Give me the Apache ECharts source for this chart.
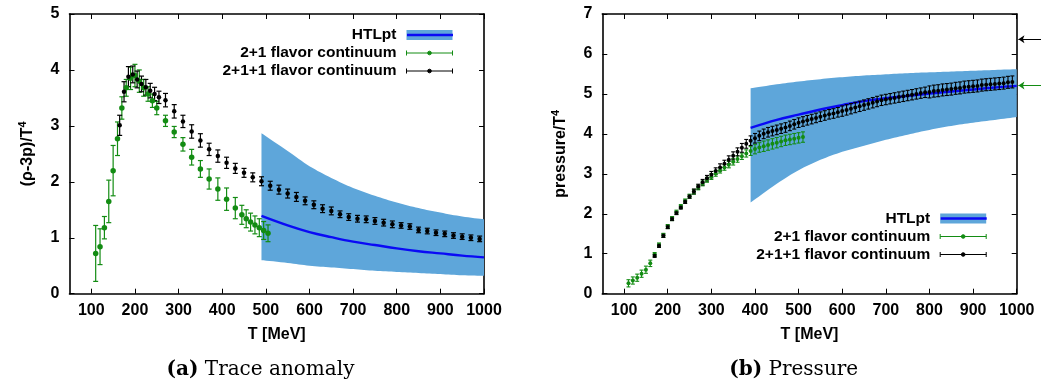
<!DOCTYPE html>
<html><head><meta charset="utf-8">
<script src="https://cdn.jsdelivr.net/npm/echarts@6/dist/echarts.min.js"></script>
<style>html,body{margin:0;padding:0;background:#fff}#c{width:1041px;height:389px}</style>
</head><body><div id="c"></div>
<script>
// ---------- tick labels ----------
const xTicks = [100, 200, 300, 400, 500, 600, 700, 800, 900, 1000];

// ---------- (a) trace anomaly ----------
const T_trace_21 = [110,120,130,140,150,160,170,180,190,200,210,220,230,240,250,270,290,310,330,350,370,390,410,430,445,455,465,475,485,495,505];
const trace_21 = [0.72,0.84,1.18,1.65,2.20,2.77,3.32,3.68,3.85,3.90,3.80,3.68,3.57,3.45,3.32,3.09,2.89,2.67,2.44,2.23,2.05,1.87,1.69,1.53,1.41,1.34,1.28,1.23,1.18,1.13,1.08];
const trace_21_err = [0.50,0.32,0.20,0.38,0.45,0.30,0.20,0.15,0.20,0.20,0.20,0.15,0.13,0.12,0.12,0.10,0.10,0.12,0.14,0.15,0.18,0.20,0.20,0.19,0.17,0.16,0.16,0.16,0.16,0.16,0.15];

const T_trace_211 = [165,175,185,195,205,215,225,235,245,255,270,290,310,330,350,370,390,410,430,450,470,490,510,530,550,570,590,610,630,650,670,690,710,730,750,770,790,810,830,850,870,890,910,930,950,970,990];
const trace_211 = [3.01,3.61,3.88,3.92,3.83,3.75,3.69,3.63,3.57,3.51,3.46,3.26,3.08,2.90,2.74,2.58,2.46,2.34,2.24,2.16,2.08,2.01,1.93,1.86,1.79,1.73,1.66,1.59,1.52,1.48,1.42,1.37,1.34,1.33,1.30,1.27,1.24,1.22,1.20,1.14,1.12,1.09,1.07,1.04,1.02,1.00,0.98];
const trace_211_err = [0.18,0.18,0.18,0.15,0.15,0.14,0.14,0.13,0.12,0.11,0.12,0.12,0.11,0.12,0.12,0.11,0.11,0.10,0.09,0.08,0.08,0.08,0.08,0.08,0.08,0.08,0.07,0.07,0.07,0.07,0.06,0.06,0.06,0.06,0.06,0.06,0.06,0.05,0.05,0.05,0.05,0.05,0.05,0.05,0.05,0.05,0.05];

const T_htl_trace = [490,550,600,650,700,750,800,850,900,950,1000];
const htl_trace_mid = [1.39,1.22,1.10,1.01,0.93,0.87,0.81,0.76,0.72,0.68,0.65];
const htl_trace_hi  = [2.87,2.55,2.28,2.07,1.89,1.75,1.63,1.53,1.45,1.38,1.33];
const htl_trace_lo  = [0.60,0.55,0.50,0.47,0.44,0.41,0.39,0.37,0.35,0.33,0.32];

// ---------- (b) pressure ----------
const T_p_21 = [110,120,130,140,150,160,170,180,190,200,210,220,230,240,250,260,270,280,290,300,310,320,330,340,350,360,370,380,390,400,410,420,430,440,450,460,470,480,490,500,510];
const p_21 = [0.26,0.33,0.40,0.50,0.60,0.76,0.98,1.22,1.46,1.68,1.88,2.04,2.18,2.32,2.44,2.55,2.66,2.76,2.85,2.93,3.01,3.09,3.16,3.23,3.30,3.37,3.44,3.51,3.57,3.62,3.66,3.69,3.72,3.75,3.78,3.81,3.84,3.86,3.88,3.90,3.92];
const p_21_err = [0.09,0.09,0.09,0.09,0.09,0.08,0.05,0.05,0.05,0.05,0.05,0.05,0.05,0.05,0.05,0.06,0.06,0.06,0.06,0.07,0.07,0.07,0.07,0.08,0.08,0.08,0.08,0.09,0.11,0.12,0.12,0.13,0.13,0.13,0.13,0.13,0.13,0.13,0.13,0.13,0.13];

const T_p_211 = [170,180,190,200,210,220,230,240,250,260,270,280,290,300,310,320,330,340,350,360,370,380,390,400,410,420,430,440,450,460,470,480,490,500,510,520,530,540,550,560,570,580,590,600,610,620,630,640,650,660,670,680,690,700,710,720,730,740,750,760,770,780,790,800,810,820,830,840,850,860,870,880,890,900,910,920,930,940,950,960,970,980,990];
const p_211 = [0.95,1.20,1.45,1.67,1.87,2.02,2.16,2.30,2.43,2.56,2.68,2.79,2.89,2.98,3.07,3.16,3.25,3.35,3.45,3.55,3.65,3.75,3.83,3.89,3.95,4.00,4.04,4.07,4.10,4.13,4.16,4.20,4.24,4.28,4.31,4.34,4.37,4.40,4.43,4.46,4.49,4.51,4.54,4.57,4.60,4.63,4.66,4.69,4.72,4.75,4.78,4.81,4.84,4.86,4.88,4.90,4.92,4.94,4.96,4.98,5.00,5.02,5.04,5.05,5.07,5.08,5.10,5.11,5.12,5.14,5.15,5.17,5.18,5.19,5.20,5.22,5.23,5.24,5.25,5.26,5.27,5.29,5.30];
const p_211_err = [0.04,0.04,0.04,0.04,0.04,0.04,0.04,0.04,0.04,0.06,0.06,0.07,0.07,0.08,0.08,0.09,0.09,0.10,0.10,0.10,0.11,0.11,0.12,0.12,0.12,0.12,0.12,0.12,0.12,0.12,0.12,0.12,0.12,0.12,0.12,0.12,0.12,0.12,0.12,0.12,0.12,0.12,0.12,0.13,0.13,0.13,0.13,0.13,0.13,0.13,0.13,0.13,0.13,0.13,0.13,0.13,0.13,0.13,0.13,0.13,0.13,0.13,0.13,0.15,0.15,0.15,0.15,0.15,0.15,0.15,0.15,0.15,0.15,0.15,0.15,0.15,0.15,0.15,0.15,0.15,0.15,0.15,0.15];

const T_htl_p = [390,450,500,550,600,650,700,750,800,850,900,950,1000];
const htl_p_mid = [4.15,4.35,4.48,4.61,4.72,4.82,4.89,4.95,5.01,5.06,5.11,5.16,5.20];
const htl_p_hi  = [5.14,5.24,5.31,5.37,5.42,5.46,5.49,5.52,5.54,5.56,5.58,5.60,5.62];
const htl_p_lo  = [2.28,2.75,3.09,3.35,3.55,3.70,3.85,3.98,4.10,4.20,4.28,4.35,4.42];

// Stefan-Boltzmann limit arrows (value, drawn outside the frame)
const T_arrow = [1060, 1004];
const sb_211 = 6.37;
const sb_21 = 5.21;

// ---------- styling ----------
const BAND = '#5ea6da';
const BLUE = '#0a0af5';
const GREEN = '#138c13';
const FONT = 'Liberation Sans';
const N21 = '2+1 flavor continuum';
const N211 = '2+1+1 flavor continuum';

const zip2 = (t, v) => t.map((x, i) => [x, v[i]]);
const zip3 = (t, v, e) => t.map((x, i) => [x, v[i], e[i]]);

function errSeries(name, data, xi, yi, color, cap, lw) {
  return {
    type: 'custom', name, xAxisIndex: xi, yAxisIndex: yi, data, z: 3, silent: true,
    encode: { x: 0, y: 1 },
    renderItem(params, api) {
      const x = api.value(0), y = api.value(1), e = api.value(2);
      const a = api.coord([x, y - e]), b = api.coord([x, y + e]);
      const st = { stroke: color, lineWidth: lw };
      return { type: 'group', children: [
        { type: 'line', shape: { x1: a[0], y1: a[1], x2: b[0], y2: b[1] }, style: st },
        { type: 'line', shape: { x1: a[0] - cap, y1: a[1], x2: a[0] + cap, y2: a[1] }, style: st },
        { type: 'line', shape: { x1: b[0] - cap, y1: b[1], x2: b[0] + cap, y2: b[1] }, style: st }
      ]};
    }
  };
}
function dotSeries(name, data, xi, yi, color, size) {
  return { type: 'scatter', name, xAxisIndex: xi, yAxisIndex: yi, data, symbol: 'circle',
    symbolSize: size, itemStyle: { color, opacity: 1 }, z: 4, silent: true };
}
// smooth pixel path through projected points (Catmull-Rom, drawing only)
function smoothPx(pts) {
  const out = [];
  for (let i = 0; i < pts.length - 1; i++) {
    const p0 = pts[Math.max(0, i - 1)], p1 = pts[i], p2 = pts[i + 1], p3 = pts[Math.min(pts.length - 1, i + 2)];
    for (let k = 0; k < 8; k++) {
      const s = k / 8, s2 = s * s, s3 = s2 * s;
      out.push([0, 1].map(d => 0.5 * ((2 * p1[d]) + (-p0[d] + p2[d]) * s +
        (2 * p0[d] - 5 * p1[d] + 4 * p2[d] - p3[d]) * s2 + (-p0[d] + 3 * p1[d] - 3 * p2[d] + p3[d]) * s3)));
    }
  }
  out.push(pts[pts.length - 1]);
  return out;
}
function bandSeries(t, lo, hi, xi, yi) {
  return {
    type: 'custom', name: 'HTLpt', xAxisIndex: xi, yAxisIndex: yi, data: [[t[0], lo[0]]], z: 1, silent: true,
    renderItem(params, api) {
      const up = smoothPx(t.map((x, i) => api.coord([x, hi[i]])));
      const dn = smoothPx(t.map((x, i) => api.coord([x, lo[i]]))).reverse();
      return { type: 'polygon', shape: { points: up.concat(dn) }, style: { fill: BAND } };
    }
  };
}
function lineSeries(t, v, xi, yi) {
  return { type: 'line', name: 'HTLpt', xAxisIndex: xi, yAxisIndex: yi, data: zip2(t, v),
    symbol: 'none', smooth: 0.4, lineStyle: { color: BLUE, width: 2.4 }, z: 2, silent: true };
}
function arrowSeries(y, color) {
  return { type: 'lines', coordinateSystem: 'cartesian2d', xAxisIndex: 2, yAxisIndex: 2, clip: false,
    symbol: ['none', 'arrow'], symbolSize: 6, silent: true, z: 5,
    lineStyle: { color, width: 1, opacity: 1 },
    data: [{ coords: [[T_arrow[0], y], [T_arrow[1], y]] }] };
}

const tickFont = { fontSize: 16, fontWeight: 'bold', fontFamily: FONT, color: '#000' };
function xAxes(grid) {
  const common = { gridIndex: grid, type: 'value', min: 50, max: 1000,
    axisLine: { show: true, onZero: false, lineStyle: { color: '#000', width: 1.6 } },
    axisTick: { show: true, inside: true, length: 5, customValues: xTicks, lineStyle: { color: '#000', width: 1 } },
    splitLine: { show: false } };
  return [
    Object.assign({}, common, { position: 'bottom',
      axisLabel: Object.assign({ show: true, margin: 9, customValues: xTicks, formatter: v => String(v) }, tickFont),
      name: 'T [MeV]', nameLocation: 'middle', nameGap: 33,
      nameTextStyle: { fontSize: 16, fontWeight: 'bold', fontFamily: FONT, color: '#000' } }),
    Object.assign({}, common, { position: 'top', axisLabel: { show: false } })
  ];
}
function yAxes(grid, max, name) {
  const common = { gridIndex: grid, type: 'value', min: 0, max, interval: 1,
    axisLine: { show: true, onZero: false, lineStyle: { color: '#000', width: 1.6 } },
    axisTick: { show: true, inside: true, length: 5, lineStyle: { color: '#000', width: 1 } },
    splitLine: { show: false } };
  return [
    Object.assign({}, common, { position: 'left',
      axisLabel: Object.assign({ show: true, margin: 10, formatter: v => String(v) }, tickFont),
      name, nameLocation: 'middle', nameGap: 32,
      nameTextStyle: { fontSize: 16, fontWeight: 'bold', fontFamily: FONT, color: '#000', lineHeight: 20,
        rich: { s: { fontSize: 11, fontWeight: 'bold', fontFamily: FONT, color: '#000', verticalAlign: 'top', lineHeight: 11, padding: [0, 0, 6, 0] } } } }),
    Object.assign({}, common, { position: 'right', axisLabel: { show: false } })
  ];
}

const EB_ICON = 'path://M0,0L0,5M0,2.5L46,2.5M46,0L46,5M21.2,2.5a1.8,1.8 0 1,0 3.6,0a1.8,1.8 0 1,0 -3.6,0Z';
const LINE_ICON = 'path://M0,0L46,0L46,2.6L0,2.6Z';
function legends(right, top) {
  const base = { orient: 'vertical', align: 'right', right, top, itemWidth: 46, itemHeight: 10,
    itemGap: 2, padding: 0, selectedMode: false, symbolKeepAspect: true };
  const ts = { fontSize: 15.5, fontWeight: 'bold', fontFamily: FONT, color: '#000', padding: [0, 5, 0, 0] };
  return [
    Object.assign({}, base, { z: 6, textStyle: ts, data: [
      { name: 'HTLpt', icon: 'rect', itemStyle: { color: BAND, borderWidth: 0 } },
      { name: N21, icon: EB_ICON, itemStyle: { color: GREEN, borderColor: GREEN, borderWidth: 1 } },
      { name: N211, icon: EB_ICON, itemStyle: { color: '#000', borderColor: '#000', borderWidth: 1 } }
    ]}),
    Object.assign({}, base, { z: 7, textStyle: Object.assign({}, ts, { color: 'rgba(0,0,0,0)' }), data: [
      { name: 'HTLpt', icon: LINE_ICON, itemStyle: { color: BLUE, borderWidth: 0 } }
    ]})
  ];
}

const capFont = { fontFamily: 'DejaVu Serif', fontSize: 20, fill: '#000', align: 'center', verticalAlign: 'middle',
  rich: { b: { fontFamily: 'DejaVu Serif', fontWeight: 'bold', fontSize: 20, fill: '#000' } } };

const option = {
  backgroundColor: '#fff',
  animation: false,
  grid: [
    { left: 69.5, top: 14, width: 414.5, height: 279.7, show: false },
    { left: 602.3, top: 14, width: 414.4, height: 279.7, show: false }
  ],
  xAxis: [...xAxes(0), ...xAxes(1)],
  yAxis: [...yAxes(0, 5, '(ρ-3p)/T{s|4}'), ...yAxes(1, 7, 'pressure/T{s|4}')],
  legend: [...legends(588, 27), ...legends(54.3, 210.5)],
  graphic: [
    { type: 'text', x: 260.5, y: 370, style: Object.assign({ text: '{b|(a)} Trace anomaly' }, capFont) },
    { type: 'text', x: 793.7, y: 370, style: Object.assign({ text: '{b|(b)} Pressure' }, capFont) }
  ],
  series: [
    bandSeries(T_htl_trace, htl_trace_lo, htl_trace_hi, 0, 0),
    lineSeries(T_htl_trace, htl_trace_mid, 0, 0),
    errSeries(N21, zip3(T_trace_21, trace_21, trace_21_err), 0, 0, GREEN, 2.5, 1.2),
    dotSeries(N21, zip2(T_trace_21, trace_21), 0, 0, GREEN, 5.5),
    errSeries(N211, zip3(T_trace_211, trace_211, trace_211_err), 0, 0, '#000', 2.5, 1.2),
    dotSeries(N211, zip2(T_trace_211, trace_211), 0, 0, '#000', 4.5),

    bandSeries(T_htl_p, htl_p_lo, htl_p_hi, 2, 2),
    lineSeries(T_htl_p, htl_p_mid, 2, 2),
    errSeries(N21, zip3(T_p_21, p_21, p_21_err), 2, 2, GREEN, 2, 1.1),
    dotSeries(N21, zip2(T_p_21, p_21), 2, 2, GREEN, 4),
    errSeries(N211, zip3(T_p_211, p_211, p_211_err), 2, 2, '#000', 2, 1.1),
    dotSeries(N211, zip2(T_p_211, p_211), 2, 2, '#000', 4),
    arrowSeries(sb_211, '#000'),
    arrowSeries(sb_21, GREEN)
  ]
};
const chart = echarts.init(document.getElementById('c'), null, { renderer: 'canvas' });
chart.setOption(option);
</script></body></html>
